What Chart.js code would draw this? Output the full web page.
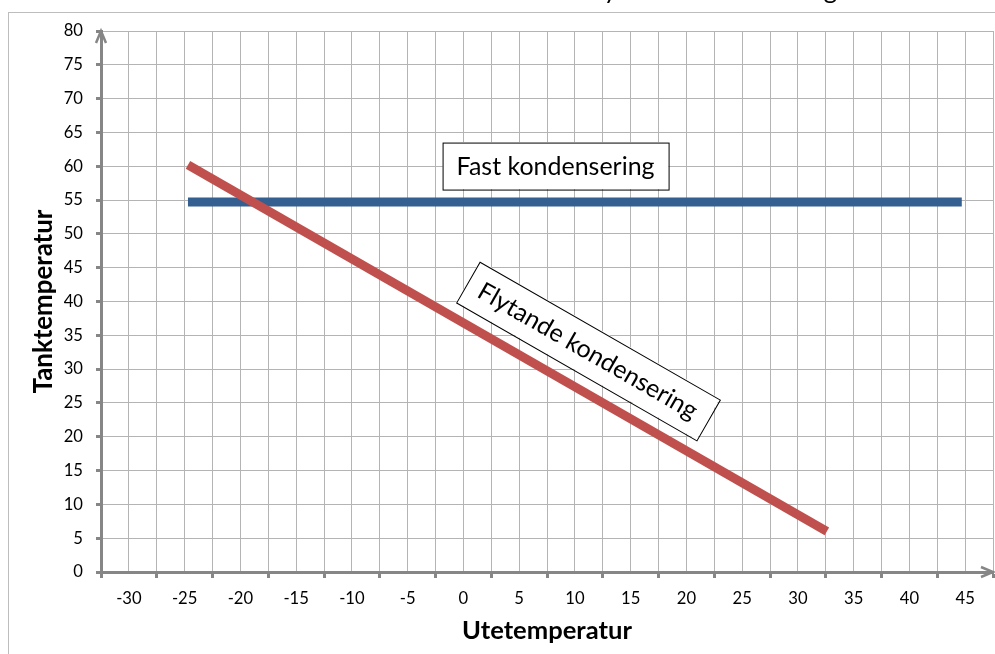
<!DOCTYPE html>
<html>
<head>
<meta charset="utf-8">
<script src="https://cdn.jsdelivr.net/npm/chart.js@4.4.0/dist/chart.umd.min.js"></script>
<style>
  html, body { margin: 0; padding: 0; background: #ffffff; }
  #wrap { width: 995px; height: 654px; position: relative; overflow: hidden; }
  canvas { display: block; }
</style>
</head>
<body>
<div id="wrap"><canvas id="chart" width="995" height="654"></canvas></div>
<script>
// Outdoor temperature tick labels (x) and tank temperature tick labels (y)
const xTickLabels = [-30, -25, -20, -15, -10, -5, 0, 5, 10, 15, 20, 25, 30, 35, 40, 45];
const yTickLabels = [0, 5, 10, 15, 20, 25, 30, 35, 40, 45, 50, 55, 60, 65, 70, 75, 80];

// Fixed condensing: constant tank temperature
const fixedX = [-24.7, 44.7];
const fixedY = [54.7, 54.7];

// Floating condensing: tank temperature falls as it gets warmer outside
const floatingX = [-24.7, 32.6];
const floatingY = [60.2, 6.0];

const FAMILY = 'Lato';
const AXIS_GREY = '#868686';
const GRID_GREY = '#b4b4b4';

// Pick a font size so a string spans a given width
const measureCtx = document.createElement('canvas').getContext('2d');
function fitSize(text, weight, width) {
  measureCtx.font = weight + ' 100px ' + FAMILY;
  return 100 * width / measureCtx.measureText(text).width;
}

const tickSize = fitSize('80', 'normal', 19.3);
const yTitleSize = fitSize('Tanktemperatur', 'bold', 184);
const xTitleSize = fitSize('Utetemperatur', 'bold', 170);
const noteSize = fitSize('Fast kondensering', 'normal', 198);

const toPoints = (xs, ys) => xs.map((x, i) => ({ x: x, y: ys[i] }));

// Text boxes placed in data coordinates
const notes = [
  { text: 'Fast kondensering', x: 8.27, y: 60.1, followLine: false },
  { text: 'Flytande kondensering', x: 11.19, y: 32.8, followLine: true }
];

const decor = {
  id: 'decor',
  beforeDraw(chart) {
    const ctx = chart.ctx;
    ctx.save();
    ctx.fillStyle = '#ffffff';
    ctx.fillRect(0, 0, chart.width, chart.height);
    // chart frame
    ctx.strokeStyle = '#bdbdbd';
    ctx.lineWidth = 1;
    ctx.strokeRect(8.5, 12.5, 1200, 1200);
    // heading sitting above the frame
    ctx.fillStyle = '#000000';
    ctx.font = (noteSize * 1.02) + 'px ' + FAMILY;
    ctx.textAlign = 'right';
    ctx.textBaseline = 'alphabetic';
    ctx.fillText('Fast och flytande kondensering', 837, -1);
    ctx.restore();
  },
  afterDatasetsDraw(chart) {
    const ctx = chart.ctx;
    const xs = chart.scales.x, ys = chart.scales.y;
    const px1 = xs.getPixelForValue(floatingX[0]), py1 = ys.getPixelForValue(floatingY[0]);
    const px2 = xs.getPixelForValue(floatingX[1]), py2 = ys.getPixelForValue(floatingY[1]);
    const lineAngle = Math.atan2(py2 - py1, px2 - px1);
    ctx.save();
    ctx.font = noteSize + 'px ' + FAMILY;
    notes.forEach(n => {
      const cx = xs.getPixelForValue(n.x);
      const cy = ys.getPixelForValue(n.y);
      const w = ctx.measureText(n.text).width + 28;
      const h = 47;
      ctx.save();
      ctx.translate(cx, cy);
      if (n.followLine) ctx.rotate(lineAngle);
      ctx.fillStyle = '#ffffff';
      ctx.fillRect(-w / 2, -h / 2, w, h);
      ctx.strokeStyle = '#000000';
      ctx.lineWidth = 1;
      ctx.strokeRect(Math.round(-w / 2) + 0.5, Math.round(-h / 2) + 0.5, Math.round(w), Math.round(h));
      ctx.fillStyle = '#000000';
      ctx.textAlign = 'center';
      ctx.textBaseline = 'middle';
      ctx.fillText(n.text, 0, 1);
      ctx.restore();
    });
    ctx.restore();
  },
  afterDraw(chart) {
    const ctx = chart.ctx;
    const a = chart.chartArea;
    ctx.save();
    ctx.strokeStyle = AXIS_GREY;
    ctx.lineWidth = 2.5;
    ctx.lineJoin = 'miter';
    ctx.lineCap = 'butt';
    // arrow at the top of the value axis
    ctx.beginPath();
    ctx.moveTo(a.left - 5, a.top + 12);
    ctx.lineTo(a.left, a.top);
    ctx.lineTo(a.left + 5, a.top + 12);
    ctx.stroke();
    // arrow at the right end of the temperature axis
    ctx.beginPath();
    ctx.moveTo(a.right - 12, a.bottom - 5);
    ctx.lineTo(a.right, a.bottom);
    ctx.lineTo(a.right - 12, a.bottom + 5);
    ctx.stroke();
    ctx.restore();
  }
};

const xTitleLH = xTitleSize * 1.2;
const yTitleLH = yTitleSize * 1.2;
const tickLH = tickSize * 1.2;

new Chart(document.getElementById('chart'), {
  type: 'scatter',
  data: {
    datasets: [
      {
        label: 'Flytande kondensering',
        data: toPoints(floatingX, floatingY),
        showLine: true,
        borderColor: '#C0504D',
        backgroundColor: '#C0504D',
        borderWidth: 9,
        borderCapStyle: 'butt',
        pointRadius: 0,
        pointHoverRadius: 0,
        fill: false
      },
      {
        label: 'Fast kondensering',
        data: toPoints(fixedX, fixedY),
        showLine: true,
        borderColor: '#335F91',
        backgroundColor: '#335F91',
        borderWidth: 9,
        borderCapStyle: 'butt',
        pointRadius: 0,
        pointHoverRadius: 0,
        fill: false
      }
    ]
  },
  options: {
    responsive: false,
    animation: false,
    devicePixelRatio: 1,
    layout: { padding: { left: 0, top: 31, right: 2, bottom: 0 } },
    plugins: {
      legend: { display: false },
      tooltip: { enabled: false },
      title: { display: false }
    },
    scales: {
      x: {
        type: 'linear',
        min: -32.5,
        max: 47.5,
        afterFit(scale) {
          scale.height = 82;
          scale.paddingLeft = 0;
          scale.paddingRight = 0;
        },
        ticks: {
          stepSize: 2.5,
          autoSkip: false,
          maxRotation: 0,
          minRotation: 0,
          color: '#000000',
          font: { family: FAMILY, size: tickSize },
          padding: 27 - 6 - tickLH / 2,
          callback: v => (xTickLabels.includes(v) ? String(v) : '')
        },
        grid: {
          color: GRID_GREY,
          lineWidth: 1,
          tickLength: 6,
          tickWidth: 3,
          tickColor: c => (c.tick && xTickLabels.includes(c.tick.value) ? 'rgba(0,0,0,0)' : AXIS_GREY)
        },
        border: { color: AXIS_GREY, width: 3 },
        title: {
          display: true,
          text: 'Utetemperatur',
          color: '#000000',
          font: { family: FAMILY, size: xTitleSize, weight: 'bold', lineHeight: 1.2 },
          padding: { top: 0, bottom: 654 - 631 - xTitleLH / 2 }
        }
      },
      y: {
        type: 'linear',
        min: 0,
        max: 80,
        afterFit(scale) {
          scale.width = 101;
          scale.paddingTop = 0;
          scale.paddingBottom = 0;
        },
        ticks: {
          stepSize: 5,
          color: '#000000',
          font: { family: FAMILY, size: tickSize },
          padding: 13,
          callback: v => (yTickLabels.includes(v) ? String(v) : '')
        },
        grid: {
          color: GRID_GREY,
          lineWidth: 1,
          tickLength: 5,
          tickWidth: 3,
          tickColor: AXIS_GREY
        },
        border: { color: AXIS_GREY, width: 3 },
        title: {
          display: true,
          text: 'Tanktemperatur',
          color: '#000000',
          font: { family: FAMILY, size: yTitleSize, weight: 'bold', lineHeight: 1.2 },
          padding: { top: 43.5 - yTitleLH / 2, bottom: 0 }
        }
      }
    }
  },
  plugins: [decor]
});
</script>
</body>
</html>
